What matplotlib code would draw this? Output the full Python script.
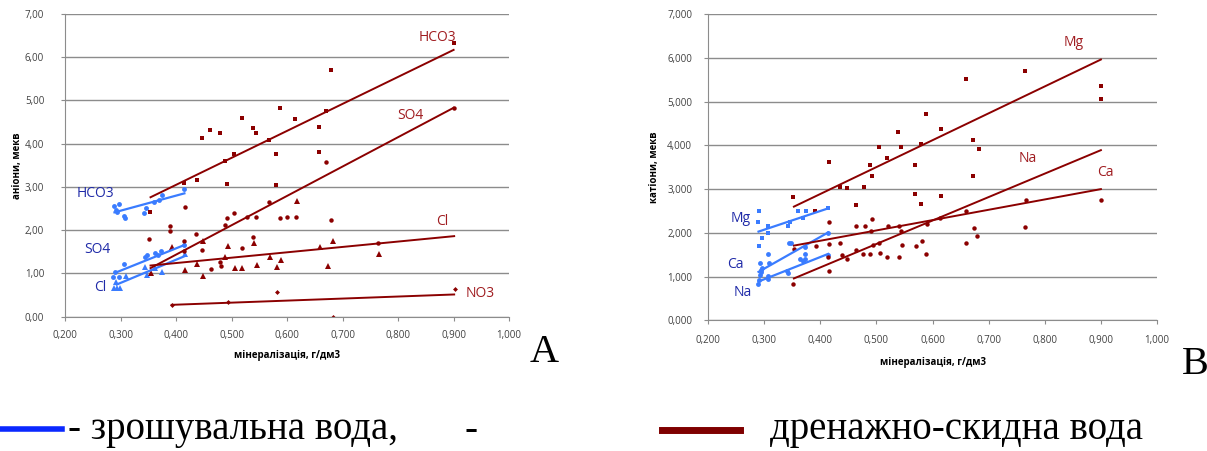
import matplotlib
matplotlib.use('Agg')
import matplotlib.pyplot as plt
from matplotlib.ticker import FuncFormatter

# ---- A: аніони ----
irr_hco3_x = [0.288, 0.291, 0.294, 0.297, 0.307, 0.308, 0.343, 0.345, 0.361, 0.369, 0.374, 0.414]
irr_hco3_y = [2.56, 2.47, 2.41, 2.60, 2.33, 2.28, 2.39, 2.50, 2.66, 2.70, 2.82, 2.95]
irr_so4_x = [0.287, 0.290, 0.298, 0.307, 0.344, 0.347, 0.362, 0.367, 0.373, 0.414]
irr_so4_y = [0.92, 1.04, 0.92, 1.22, 1.37, 1.42, 1.48, 1.43, 1.51, 1.65]
irr_cl_x = [0.289, 0.293, 0.299, 0.291, 0.309, 0.344, 0.347, 0.362, 0.374, 0.416]
irr_cl_y = [0.65, 0.65, 0.65, 0.81, 0.94, 1.15, 0.96, 1.12, 1.04, 1.44]

dr_hco3_x = [0.353, 0.414, 0.437, 0.446, 0.462, 0.479, 0.489, 0.492, 0.505, 0.518, 0.539, 0.544,
             0.568, 0.580, 0.580, 0.587, 0.615, 0.658, 0.658, 0.671, 0.680, 0.900]
dr_hco3_y = [2.41, 3.08, 3.16, 4.12, 4.31, 4.25, 3.60, 3.06, 3.76, 4.60, 4.36, 4.25,
             4.08, 3.76, 3.04, 4.83, 4.56, 4.39, 3.81, 4.75, 5.71, 6.32]
dr_so4_x = [0.352, 0.389, 0.389, 0.414, 0.416, 0.436, 0.446, 0.463, 0.480, 0.481, 0.489, 0.491,
            0.505, 0.518, 0.527, 0.539, 0.544, 0.568, 0.587, 0.599, 0.616, 0.670, 0.680, 0.763, 0.900, 0.414]
dr_so4_y = [1.79, 2.10, 1.99, 1.75, 2.54, 1.92, 1.55, 1.11, 1.25, 1.18, 2.12, 2.29,
            2.40, 1.58, 2.31, 1.83, 2.31, 2.64, 2.27, 2.31, 2.31, 3.58, 2.23, 1.69, 4.83, 1.52]
dr_cl_x = [0.354, 0.392, 0.416, 0.438, 0.449, 0.449, 0.489, 0.493, 0.506, 0.519, 0.541, 0.545,
           0.569, 0.581, 0.589, 0.617, 0.659, 0.673, 0.682, 0.765]
dr_cl_y = [1.00, 1.60, 1.08, 1.22, 1.75, 0.94, 1.37, 1.64, 1.13, 1.13, 1.71, 1.20,
           1.37, 1.15, 1.31, 2.68, 1.61, 1.16, 1.75, 1.45]
dr_no3_x = [0.392, 0.493, 0.581, 0.682, 0.903]
dr_no3_y = [0.27, 0.33, 0.56, 0.00, 0.63]

# лінії тренду (початок, кінець)
trA_irr = {'HCO3': ([0.289, 0.415], [2.41, 2.85]),
           'SO4': ([0.290, 0.416], [1.01, 1.66]),
           'Cl': ([0.293, 0.416], [0.74, 1.40])}
trA_dr = {'HCO3': ([0.354, 0.900], [2.76, 6.17]),
          'SO4': ([0.354, 0.900], [1.12, 4.83]),
          'Cl': ([0.354, 0.901], [1.18, 1.86]),
          'NO3': ([0.392, 0.901], [0.27, 0.51])}
labA_irr = [('HCO3', 0.254, 2.84), ('SO4', 0.259, 1.54), ('Cl', 0.263, 0.68)]
labA_dr = [('HCO3', 0.870, 6.45), ('SO4', 0.823, 4.66), ('Cl', 0.879, 2.21), ('NO3', 0.948, 0.54)]

# ---- B: катіони ----
irr_mg_x = [0.289, 0.290, 0.291, 0.297, 0.306, 0.306, 0.342, 0.346, 0.360, 0.370, 0.374, 0.414]
irr_mg_y = [2.24, 2.51, 1.71, 1.88, 2.16, 2.00, 2.16, 2.24, 2.51, 2.33, 2.51, 2.56]
irr_ca_x = [0.293, 0.294, 0.296, 0.307, 0.309, 0.344, 0.348, 0.364, 0.372, 0.373, 0.373, 0.414]
irr_ca_y = [1.32, 1.15, 1.20, 1.52, 1.32, 1.76, 1.76, 1.40, 1.52, 1.68, 1.40, 2.00]
irr_na_x = [0.289, 0.291, 0.293, 0.295, 0.306, 0.306, 0.340, 0.343, 0.370, 0.413]
irr_na_y = [0.83, 0.92, 1.04, 1.10, 1.02, 0.95, 1.13, 1.08, 1.35, 1.50]

dr_mg_x = [0.352, 0.391, 0.416, 0.435, 0.448, 0.463, 0.478, 0.489, 0.493, 0.504, 0.518, 0.539, 0.543,
           0.568, 0.568, 0.579, 0.580, 0.589, 0.615, 0.615, 0.659, 0.672, 0.672, 0.682, 0.765, 0.900, 0.900]
dr_mg_y = [2.82, 2.50, 3.63, 3.05, 3.03, 2.64, 3.05, 3.55, 3.31, 3.96, 3.72, 4.30, 3.96,
           3.55, 2.89, 2.67, 4.04, 4.71, 4.37, 2.84, 5.52, 4.13, 3.30, 3.91, 5.70, 5.35, 5.06]
dr_ca_x = [0.353, 0.392, 0.416, 0.416, 0.435, 0.464, 0.479, 0.491, 0.493, 0.520, 0.541, 0.543,
           0.591, 0.614, 0.660, 0.674, 0.766, 0.901]
dr_ca_y = [1.63, 1.71, 2.26, 1.74, 1.78, 2.15, 2.15, 2.05, 2.32, 2.15, 2.15, 2.05,
           2.20, 2.35, 2.50, 2.11, 2.75, 2.75]
dr_na_x = [0.352, 0.414, 0.416, 0.438, 0.447, 0.463, 0.477, 0.489, 0.494, 0.505, 0.507, 0.518,
           0.540, 0.545, 0.570, 0.582, 0.588, 0.659, 0.680, 0.765]
dr_na_y = [0.83, 1.45, 1.14, 1.50, 1.40, 1.60, 1.52, 1.52, 1.73, 1.78, 1.55, 1.45,
           1.45, 1.73, 1.70, 1.81, 1.52, 1.78, 1.92, 2.13]

trB_irr = {'Mg': ([0.290, 0.414], [2.03, 2.56]),
           'Ca': ([0.290, 0.414], [1.11, 2.01]),
           'Na': ([0.290, 0.414], [0.89, 1.52])}
trB_dr = {'Mg': ([0.353, 0.900], [2.60, 5.96]),
          'Ca': ([0.353, 0.900], [1.71, 3.00]),
          'Na': ([0.353, 0.900], [0.96, 3.89])}
labB_irr = [('Mg', 0.259, 2.32), ('Ca', 0.248, 1.27), ('Na', 0.261, 0.63)]
labB_dr = [('Mg', 0.851, 6.34), ('Na', 0.769, 3.71), ('Ca', 0.908, 3.38)]

BLUE = '#3a7cff'
BLUE_TXT = '#1f2aa8'
RED = '#8b0000'
RED_TXT = '#a01c20'
GRID = '#8c8c8c'
FONT = 'Open Sans'


def setup(ax, ydec, ylabel, ypad, ylabpad, xpad, xlabpad):
    ax.set_xlim(0.2, 1.0)
    ax.set_ylim(0, 7)
    ax.set_xticks([0.2 + 0.1 * i for i in range(9)])
    ax.set_yticks(range(8))
    ax.xaxis.set_major_formatter(FuncFormatter(lambda v, p: ('%.3f' % v).replace('.', ',')))
    ax.yaxis.set_major_formatter(FuncFormatter(lambda v, p: ('%.*f' % (ydec, v)).replace('.', ',')))
    ax.grid(axis='y', color=GRID, lw=1.0)
    ax.set_axisbelow(True)
    for s in ['top', 'right']:
        ax.spines[s].set_visible(False)
    for s in ['left', 'bottom']:
        ax.spines[s].set_color(GRID)
    ax.tick_params(axis='both', labelsize=7, colors=GRID, length=3, labelcolor='#404040')
    ax.tick_params(axis='y', pad=ypad)
    ax.tick_params(axis='x', pad=xpad)
    for lab in ax.get_xticklabels() + ax.get_yticklabels():
        lab.set_family(FONT)
    ax.set_xlabel('мінералізація, г/дм3', fontsize=7, fontweight='bold', family=FONT, labelpad=xlabpad)
    ax.set_ylabel(ylabel, fontsize=7, fontweight='bold', family=FONT, labelpad=ylabpad)


fig = plt.figure(figsize=(12.07, 4.51), dpi=100)
axA = fig.add_axes([0.0539, 0.2982, 0.3679, 0.6707])
axB = fig.add_axes([0.5866, 0.2894, 0.372, 0.6796])

# A
axA.plot(irr_hco3_x, irr_hco3_y, 'o', color=BLUE, ms=3.5, mew=0)
axA.plot(irr_so4_x, irr_so4_y, 'o', color=BLUE, ms=3.5, mew=0)
axA.plot(irr_cl_x, irr_cl_y, '^', color=BLUE, ms=4, mew=0)
axA.plot(dr_hco3_x, dr_hco3_y, 's', color=RED, ms=3, mew=0)
axA.plot(dr_so4_x, dr_so4_y, 'o', color=RED, ms=3.2, mew=0)
axA.plot(dr_cl_x, dr_cl_y, '^', color=RED, ms=4, mew=0)
axA.plot(dr_no3_x, dr_no3_y, 'D', color=RED, ms=2.5, mew=0)
for k in trA_irr:
    axA.plot(trA_irr[k][0], trA_irr[k][1], color=BLUE, lw=1.6)
for k in trA_dr:
    axA.plot(trA_dr[k][0], trA_dr[k][1], color=RED, lw=1.4)
for t, x, y in labA_irr:
    axA.text(x, y, t, color=BLUE_TXT, fontsize=10, family=FONT, ha='center', va='center')
for t, x, y in labA_dr:
    axA.text(x, y, t, color=RED_TXT, fontsize=10, family=FONT, ha='center', va='center')
setup(axA, 2, 'аніони, мекв', 12, 1.5, 7, 6)

# B
axB.plot(irr_mg_x, irr_mg_y, 's', color=BLUE, ms=3, mew=0)
axB.plot(irr_ca_x, irr_ca_y, 'o', color=BLUE, ms=3.5, mew=0)
axB.plot(irr_na_x, irr_na_y, 'o', color=BLUE, ms=3.5, mew=0)
axB.plot(dr_mg_x, dr_mg_y, 's', color=RED, ms=3, mew=0)
axB.plot(dr_ca_x, dr_ca_y, 'o', color=RED, ms=3.2, mew=0)
axB.plot(dr_na_x, dr_na_y, 'o', color=RED, ms=3.2, mew=0)
for k in trB_irr:
    axB.plot(trB_irr[k][0], trB_irr[k][1], color=BLUE, lw=1.6)
for k in trB_dr:
    axB.plot(trB_dr[k][0], trB_dr[k][1], color=RED, lw=1.4)
for t, x, y in labB_irr:
    axB.text(x, y, t, color=BLUE_TXT, fontsize=10, family=FONT, ha='center', va='center')
for t, x, y in labB_dr:
    axB.text(x, y, t, color=RED_TXT, fontsize=10, family=FONT, ha='center', va='center')
setup(axB, 3, 'катіони, мекв', 8.5, 5, 7.5, 8)

# літери A, B
fig.text(544 / 1207, 1 - 352 / 451, 'A', fontsize=29, family='Liberation Serif', ha='center', va='center')
fig.text(1195 / 1207, 1 - 364 / 451, 'B', fontsize=29, family='Liberation Serif', ha='center', va='center')

# легенда внизу
fig.add_artist(plt.Line2D([0, 62 / 1207], [1 - 429 / 451] * 2, color='#0a28ff', lw=4))
fig.add_artist(plt.Line2D([662 / 1207, 740 / 1207], [1 - 430 / 451] * 2, color='#7f0000', lw=5))
fig.text(68 / 1207, 1 - 430 / 451, '- зрошувальна вода,', fontsize=28, family='Liberation Serif', va='center')
fig.text(465 / 1207, 1 - 430 / 451, '-', fontsize=28, family='Liberation Serif', va='center')
fig.text(770 / 1207, 1 - 430 / 451, 'дренажно-скидна вода', fontsize=28, family='Liberation Serif', va='center')

plt.savefig('out.png', dpi=100)
